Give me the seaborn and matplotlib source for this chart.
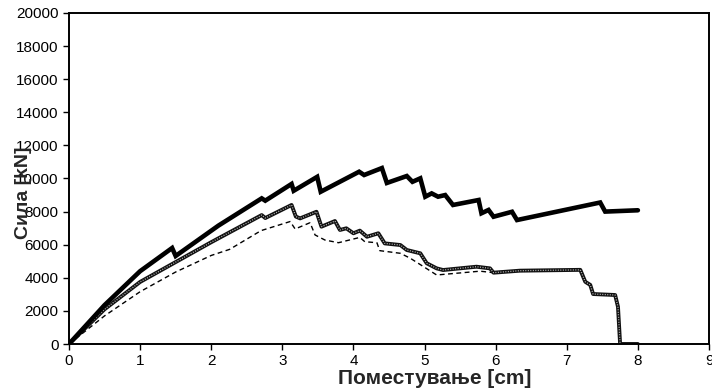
import matplotlib
matplotlib.use("Agg")
import matplotlib.pyplot as plt
import seaborn as sns
import pandas as pd

# Series A (thick solid)
a_x = [0, 0.5, 1.0, 1.45, 1.5, 2.1, 2.71, 2.76, 3.13, 3.16, 3.49, 3.54, 4.08, 4.15, 4.40, 4.47,
       4.75, 4.83, 4.94, 5.01, 5.10, 5.19, 5.29, 5.40, 5.76, 5.80, 5.90, 5.97, 6.23, 6.30,
       7.47, 7.54, 8.0]
a_y = [0, 2350, 4400, 5800, 5320, 7150, 8800, 8660, 9670, 9260, 10100, 9200, 10410, 10210, 10630, 9730,
       10150, 9800, 10010, 8900, 9100, 8900, 9000, 8400, 8700, 7900, 8100, 7690, 7990, 7490,
       8550, 8000, 8080]

# Series B (thick dotted)
b_x = [0, 0.5, 1.0, 1.5, 2.0, 2.71, 2.76, 3.13, 3.19, 3.25, 3.48, 3.55, 3.74, 3.81, 3.90, 4.00,
       4.09, 4.19, 4.35, 4.44, 4.66, 4.75, 4.94, 5.03, 5.17, 5.26, 5.73, 5.92, 5.97, 6.34,
       7.19, 7.26, 7.33, 7.37, 7.68, 7.72, 7.75, 8.0]
b_y = [0, 2100, 3750, 4950, 6150, 7790, 7610, 8400, 7700, 7590, 7990, 7090, 7430, 6890, 6990, 6690,
       6850, 6480, 6690, 6080, 5980, 5680, 5480, 4880, 4570, 4470, 4670, 4570, 4310, 4430,
       4480, 3760, 3570, 3020, 2960, 2250, 0, 0]

# Series C (dashed)
c_x = [0, 0.5, 1.0, 1.5, 2.0, 2.26, 2.7, 3.11, 3.18, 3.39, 3.46, 3.60, 3.79, 4.09, 4.16, 4.33,
       4.37, 4.66, 4.80, 4.91, 5.17, 5.78, 5.97, 6.34, 7.19, 7.26, 7.33, 7.37, 7.68, 7.72, 7.75]
c_y = [0, 1700, 3160, 4350, 5350, 5720, 6850, 7400, 6950, 7330, 6590, 6280, 6120, 6440, 6180, 6120,
       5640, 5480, 5180, 4880, 4170, 4400, 4310, 4430, 4480, 3760, 3570, 3020, 2960, 2250, 0]

x_ticks = [0, 1, 2, 3, 4, 5, 6, 7, 8, 9]
y_ticks = [0, 2000, 4000, 6000, 8000, 10000, 12000, 14000, 16000, 18000, 20000]
x_label = "Поместување [cm]"
y_label = "Сила [kN]"

sns.set_style("white")
plt.rcParams['font.family'] = ['Liberation Sans', 'DejaVu Sans']

fig = plt.figure(figsize=(7.12, 3.92), dpi=100)
ax = fig.add_axes([69/712, 48/392, 640/712, 331/392])

dfa = pd.DataFrame({"x": a_x, "y": a_y})
dfb = pd.DataFrame({"x": b_x, "y": b_y})
dfc = pd.DataFrame({"x": c_x, "y": c_y})

sns.lineplot(data=dfc, x="x", y="y", ax=ax, sort=False, estimator=None, color="black",
             linewidth=1.0, linestyle=(0, (3.5, 2.5)))
sns.lineplot(data=dfb, x="x", y="y", ax=ax, sort=False, estimator=None, color="#111111",
             linewidth=2.8)
sns.lineplot(data=dfb, x="x", y="y", ax=ax, sort=False, estimator=None, color="#bbbbbb",
             linewidth=0.9, linestyle=(0, (0.8, 1.2)))
sns.lineplot(data=dfa, x="x", y="y", ax=ax, sort=False, estimator=None, color="black",
             linewidth=3.3, solid_joinstyle="miter")

ax.set_xlim(0, 9)
ax.set_ylim(0, 20000)
ax.set_xticks(x_ticks)
ax.set_yticks(y_ticks)
ax.tick_params(axis="both", which="major", direction="out", length=4, width=1,
               labelsize=11, bottom=True, left=True, top=False, right=False, colors="black")
ax.tick_params(axis="x", pad=3)
for s in ax.spines.values():
    s.set_color("black")
    s.set_linewidth(1.4)

ax.set_xlabel("")
ax.set_ylabel("")
fig.text(435/712, 1 - 378/392, x_label, ha="center", va="center", fontsize=15, fontweight="bold")
fig.text(24/712, 1 - 193/392, y_label, ha="center", va="center", rotation=90, fontsize=14,
         fontweight="bold")

fig.savefig("out.png", dpi=100)
